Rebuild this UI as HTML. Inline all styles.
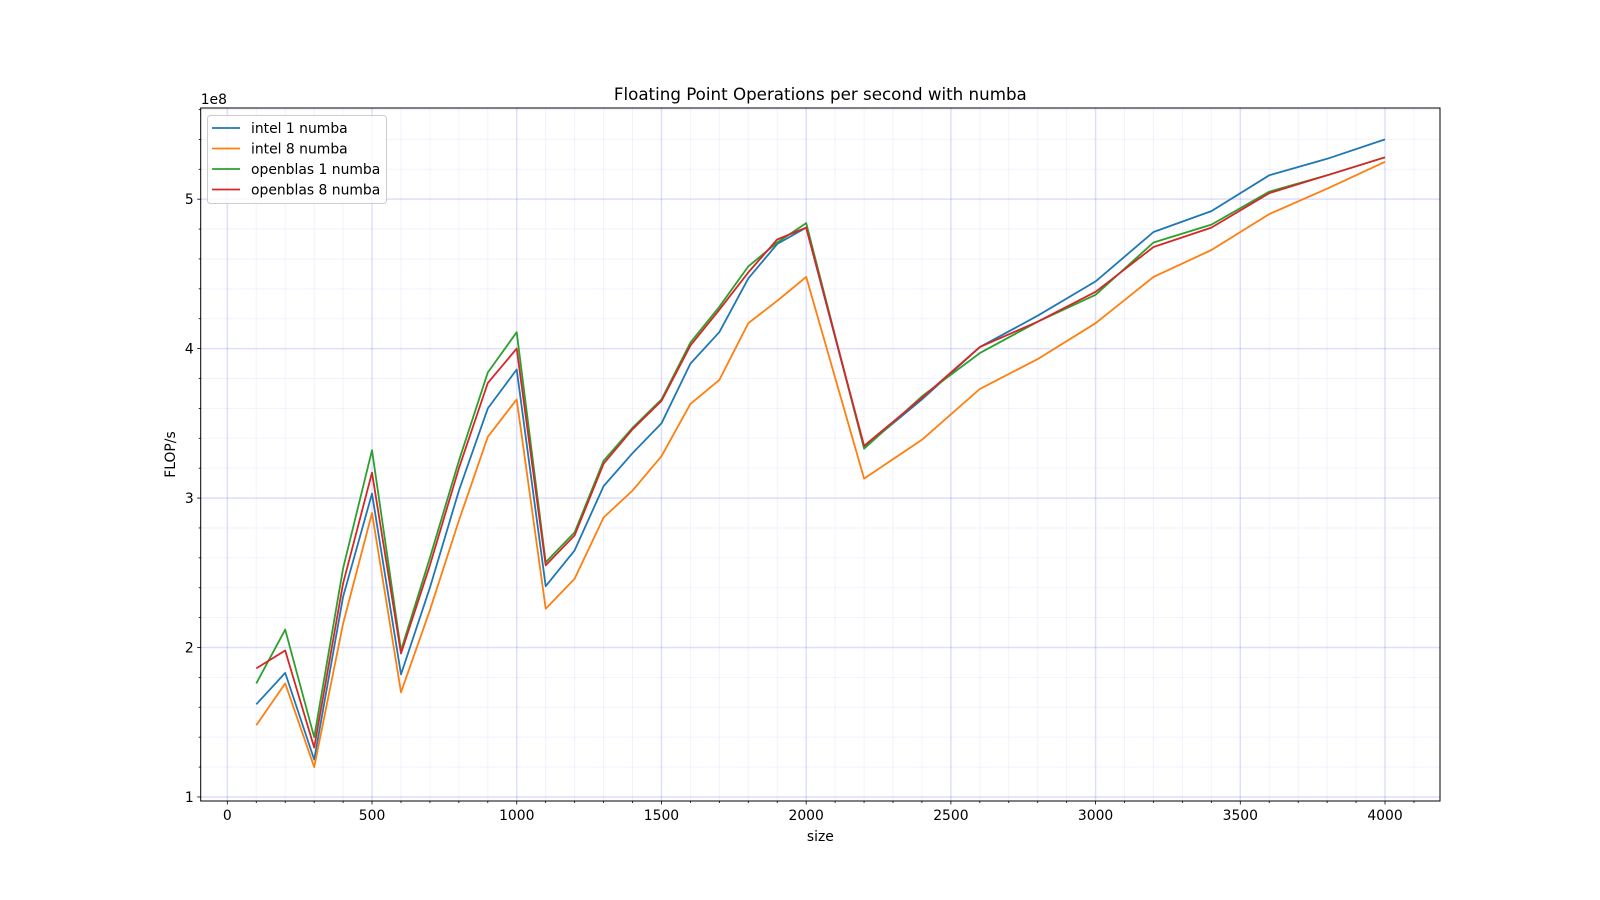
<!DOCTYPE html>
<html><head><meta charset="utf-8"><style>
html,body{margin:0;padding:0;background:#fff;}
svg{display:block;font-family:"DejaVu Sans","Liberation Sans",sans-serif;}
</style></head><body>
<svg id="chart" width="1600" height="900"></svg>
<script>
const sizes = [100,200,300,400,500,600,700,800,900,1000,1100,1200,1300,1400,1500,1600,1700,1800,1900,2000,2200,2400,2600,2800,3000,3200,3400,3600,3800,4000];
const intel1 = [1.62,1.83,1.25,2.34,3.03,1.82,2.40,3.05,3.60,3.86,2.41,2.65,3.08,3.30,3.50,3.90,4.11,4.47,4.70,4.81,3.34,3.66,4.01,4.22,4.45,4.78,4.92,5.16,5.27,5.40];
const intel8 = [1.48,1.76,1.20,2.16,2.90,1.70,2.25,2.85,3.41,3.66,2.26,2.46,2.87,3.05,3.28,3.63,3.79,4.17,4.32,4.48,3.13,3.39,3.73,3.93,4.17,4.48,4.66,4.90,5.07,5.25];
const openblas1 = [1.76,2.12,1.40,2.53,3.32,1.98,2.60,3.25,3.84,4.11,2.57,2.77,3.25,3.47,3.66,4.04,4.28,4.55,4.71,4.84,3.33,3.68,3.97,4.18,4.36,4.71,4.83,5.05,5.16,5.28];
const openblas8 = [1.86,1.98,1.33,2.43,3.17,1.96,2.55,3.20,3.77,4.00,2.55,2.75,3.23,3.46,3.65,4.02,4.26,4.51,4.73,4.81,3.35,3.67,4.01,4.18,4.38,4.68,4.81,5.04,5.16,5.28];
const seriesNames = ["intel 1 numba","intel 8 numba","openblas 1 numba","openblas 8 numba"];
const seriesColors = ["#1f77b4","#ff7f0e","#2ca02c","#d62728"];
const xTicks = [0,500,1000,1500,2000,2500,3000,3500,4000];
const yTicks = [1,2,3,4,5];

const L=200.7,R=1440,T=108,B=801;
const xMin=-92, xMax=4190, yMin=0.973, yMax=5.61;
const xs=v=>L+(v-xMin)/(xMax-xMin)*(R-L);
const ys=v=>B-(v-yMin)/(yMax-yMin)*(B-T);
const svg=document.getElementById('chart');
const NS='http://www.w3.org/2000/svg';
function mk(tag,attrs,parent){const e=document.createElementNS(NS,tag);for(const k in attrs)e.setAttribute(k,attrs[k]);(parent||svg).appendChild(e);return e;}

for(let v=0;v<=4100;v+=100){if(v%500===0)continue;const x=xs(v);
 const g=mk('line',{x1:x,x2:x,y1:T,y2:B,stroke:'rgba(0,0,255,0.05)','stroke-width':1});
 
 const t=mk('line',{x1:x,x2:x,y1:B,y2:B+2,stroke:'#000','stroke-width':0.8});
 }
for(let i=0;i<=28;i++){const v=1+i*0.2;if(i%5===0||v>yMax)continue;const y=ys(v);
 const g=mk('line',{x1:L,x2:R,y1:y,y2:y,stroke:'rgba(0,0,255,0.05)','stroke-width':1});
 
 const t=mk('line',{x1:L-2,x2:L,y1:y,y2:y,stroke:'#000','stroke-width':0.8});
 }
xTicks.forEach(v=>{const x=xs(v);
 const g=mk('line',{x1:x,x2:x,y1:T,y2:B,stroke:'rgba(0,0,255,0.13)','stroke-width':1.5});
 
 const t=mk('line',{x1:x,x2:x,y1:B,y2:B+3.5,stroke:'#000','stroke-width':0.8});
 
 const l=mk('text',{x:x,y:B+19,'text-anchor':'middle','font-size':13.9,fill:'#000'});l.textContent=v;
 });
yTicks.forEach(v=>{const y=ys(v);
 const g=mk('line',{x1:L,x2:R,y1:y,y2:y,stroke:'rgba(0,0,255,0.13)','stroke-width':1.5});
 
 const t=mk('line',{x1:L-3.5,x2:L,y1:y,y2:y,stroke:'#000','stroke-width':0.8});
 
 const l=mk('text',{x:L-7,y:y+5,'text-anchor':'end','font-size':13.9,fill:'#000'});l.textContent=v;
 });

[intel1,intel8,openblas1,openblas8].forEach((arr,i)=>{
 const pts=arr.map((v,j)=>xs(sizes[j]).toFixed(1)+','+ys(v).toFixed(1)).join(' ');
 const p=mk('polyline',{points:pts,fill:'none',stroke:seriesColors[i],'stroke-width':1.8,'stroke-linejoin':'round'});
 
 });

const fr=mk('rect',{x:L,y:T,width:R-L,height:B-T,fill:'none',stroke:'#000','stroke-width':1});


const ti=mk('text',{x:(L+R)/2,y:100,'text-anchor':'middle','font-size':16.7,fill:'#000'});ti.textContent='Floating Point Operations per second with numba';

const xl=mk('text',{x:(L+R)/2,y:841,'text-anchor':'middle','font-size':13.9,fill:'#000'});xl.textContent='size';

const yl=mk('text',{x:0,y:0,'text-anchor':'middle','font-size':13.9,fill:'#000',transform:'translate(175,'+((T+B)/2)+') rotate(-90)'});yl.textContent='FLOP/s';

const ex=mk('text',{x:L,y:104,'font-size':13.9,fill:'#000'});ex.textContent='1e8';


const lg=mk('g',{});

mk('rect',{x:207.5,y:115.5,width:179,height:88,rx:3,fill:'rgba(255,255,255,0.8)',stroke:'#ccc','stroke-width':1},lg);
seriesNames.forEach((n,i)=>{const y=128+i*20.5;
 const e=mk('g',{},lg);
 
 mk('line',{x1:212,x2:240,y1:y,y2:y,stroke:seriesColors[i],'stroke-width':1.8},e);
 const t=mk('text',{x:251,y:y+5,'font-size':13.9,fill:'#000'},e);t.textContent=n;});
</script>
</body></html>
